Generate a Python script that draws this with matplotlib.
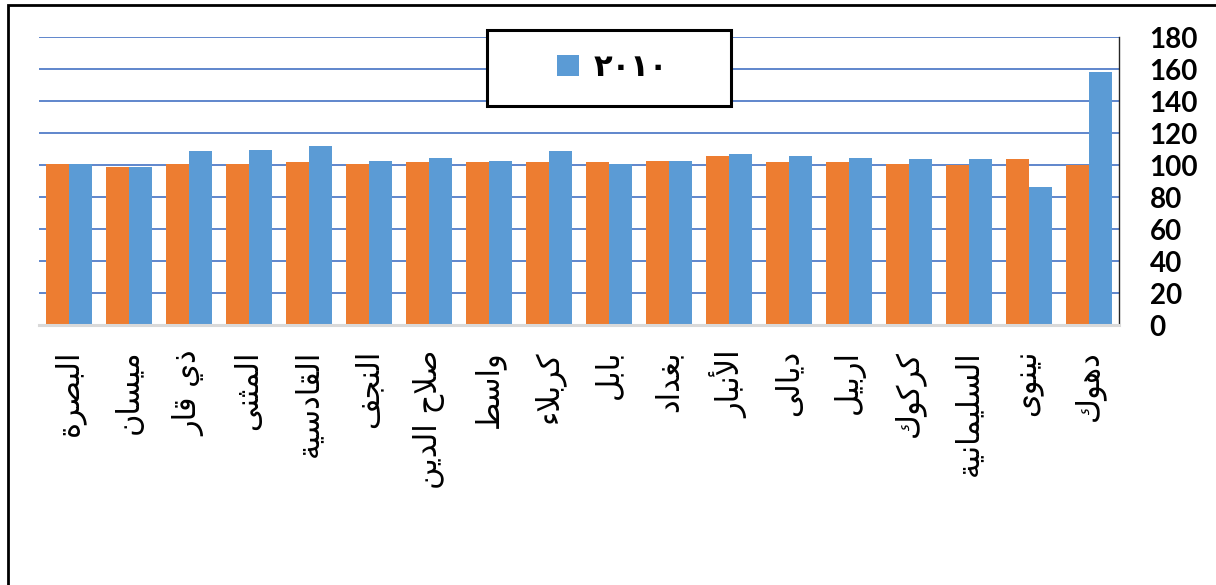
import matplotlib
matplotlib.use("Agg")
import matplotlib.pyplot as plt
from matplotlib.patches import Rectangle, Patch
import numpy as np

# ---------------- data ----------------
categories = ["البصرة", "ميسان", "ذي قار", "المثنى", "القادسية", "النجف",
              "صلاح الدين", "واسط", "كربلاء", "بابل", "بغداد", "الأنبار",
              "ديالى", "اربيل", "كركوك", "السليمانية", "نينوى", "دهوك"]
values_base = [100.6, 98.5, 100.6, 100.6, 101.7, 100.6, 101.7, 101.7, 101.7,
               101.7, 102.5, 105.6, 101.7, 101.7, 100.6, 99.8, 103.5, 99.8]
values_2010 = [100.6, 98.5, 108.5, 109.6, 111.7, 102.5, 104.6, 102.5, 108.5,
               100.6, 102.5, 106.7, 105.6, 104.6, 103.5, 103.5, 86.5, 158.0]
legend_label = "٢٠١٠"
y_ticks = [0, 20, 40, 60, 80, 100, 120, 140, 160, 180]

# ------------- minimal Arabic shaping (matplotlib has no shaper) -------------
_DUAL = {0x0626: 0xFE89, 0x0628: 0xFE8F, 0x062A: 0xFE95, 0x062B: 0xFE99,
         0x062C: 0xFE9D, 0x062D: 0xFEA1, 0x062E: 0xFEA5, 0x0633: 0xFEB1,
         0x0634: 0xFEB5, 0x0635: 0xFEB9, 0x0636: 0xFEBD, 0x0637: 0xFEC1,
         0x0638: 0xFEC5, 0x0639: 0xFEC9, 0x063A: 0xFECD, 0x0641: 0xFED1,
         0x0642: 0xFED5, 0x0643: 0xFED9, 0x0644: 0xFEDD, 0x0645: 0xFEE1,
         0x0646: 0xFEE5, 0x0647: 0xFEE9, 0x064A: 0xFEF1}
_RIGHT = {0x0622: 0xFE81, 0x0623: 0xFE83, 0x0624: 0xFE85, 0x0625: 0xFE87,
          0x0627: 0xFE8D, 0x0629: 0xFE93, 0x062F: 0xFEA9, 0x0630: 0xFEAB,
          0x0631: 0xFEAD, 0x0632: 0xFEAF, 0x0648: 0xFEED, 0x0649: 0xFEEF}
_NONJ = {0x0621: 0xFE80}
_LAMALEF = {0x0622: 0xFEF5, 0x0623: 0xFEF7, 0x0625: 0xFEF9, 0x0627: 0xFEFB}


def shape_ar(s):
    toks = []
    i = 0
    while i < len(s):
        c = ord(s[i])
        if c == 0x0644 and i + 1 < len(s) and ord(s[i + 1]) in _LAMALEF:
            toks.append((_LAMALEF[ord(s[i + 1])], "R"))
            i += 2
            continue
        if c in _DUAL:
            toks.append((_DUAL[c], "D"))
        elif c in _RIGHT:
            toks.append((_RIGHT[c], "R"))
        elif c in _NONJ:
            toks.append((_NONJ[c], "U"))
        else:
            toks.append((c, "X"))
        i += 1
    out = []
    for k, (base, t) in enumerate(toks):
        if t in ("U", "X"):
            out.append(chr(base))
            continue
        jp = k > 0 and toks[k - 1][1] == "D"
        jn = t == "D" and k + 1 < len(toks) and toks[k + 1][1] in ("D", "R")
        if t == "D":
            idx = 3 if (jp and jn) else 2 if jn else 1 if jp else 0
        else:
            idx = 1 if jp else 0
        out.append(chr(base + idx))
    return "".join(reversed(out))


# ---------------- figure ----------------
W, H = 1216, 585
fig = plt.figure(figsize=(W / 100, H / 100), dpi=100)
fig.patch.set_facecolor("white")

x0, x1, ytop, ybot = 39, 1119, 37, 325
ax = fig.add_axes([x0 / W, 1 - ybot / H, (x1 - x0) / W, (ybot - ytop) / H])

orange = "#ED7D31"
blue = "#5B9BD5"
n = len(categories)
x = np.arange(n)
bw = 1 / 2.6
ax.bar(x - bw / 2, values_base, width=bw, color=orange, zorder=3)
ax.bar(x + bw / 2, values_2010, width=bw, color=blue, zorder=3)

ax.set_xlim(-0.5, n - 0.5)
ax.set_ylim(0, 180)
ax.set_yticks(y_ticks)
ax.yaxis.tick_right()
ax.yaxis.grid(True, color="#4472C4", linewidth=1.2, zorder=1)
ax.set_axisbelow(True)
ax.tick_params(axis="y", length=0, pad=22)
for lab in ax.get_yticklabels():
    lab.set_fontfamily("Lato")
    lab.set_fontweight("bold")
    lab.set_fontsize(20)
    lab.set_color("black")

ax.set_xticks(x)
ax.set_xticklabels([shape_ar(c) for c in categories], rotation=90,
                   fontsize=22, family="DejaVu Sans", va="top", ha="center")
ax.tick_params(axis="x", length=0, pad=18)

for s in ("left", "top"):
    ax.spines[s].set_visible(False)
ax.spines["right"].set_color("#262626")
ax.spines["right"].set_linewidth(1.0)
ax.spines["bottom"].set_color("#D9D9D9")
ax.spines["bottom"].set_linewidth(2.2)
ax.spines["bottom"].set_zorder(4)

# outer chart frame (left and top visible, rest beyond canvas)
fig.patches.append(Rectangle((8 / W, -0.05), 1.1, 1 - 5 / H + 0.05,
                             transform=fig.transFigure, fill=False,
                             edgecolor="black", linewidth=2.0, zorder=1))

# legend box
fig.patches.append(Rectangle((487 / W, 1 - 106 / H), 244 / W, 76 / H,
                             transform=fig.transFigure, facecolor="white",
                             edgecolor="black", linewidth=2.2, zorder=5))
leg = fig.legend(handles=[Patch(facecolor=blue)], labels=[legend_label],
                 loc="center", bbox_to_anchor=(613 / W, 1 - 68 / H),
                 frameon=False, handlelength=0.7, handleheight=0.7,
                 handletextpad=0.5,
                 prop={"family": "DejaVu Sans", "weight": "bold", "size": 22})
leg.set_zorder(6)

fig.savefig("out.png", dpi=100)
